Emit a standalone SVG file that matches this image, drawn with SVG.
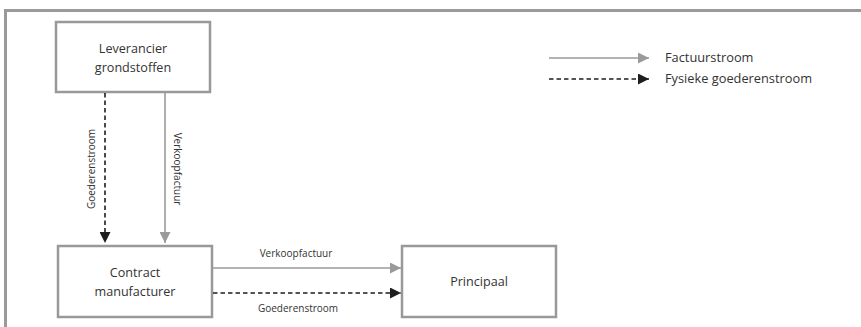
<svg xmlns="http://www.w3.org/2000/svg" width="861" height="327" viewBox="0 0 861 327">
  <defs>
    <marker id="headGray" viewBox="0 0 10 10" refX="10" refY="5" markerWidth="11" markerHeight="11" markerUnits="userSpaceOnUse" orient="auto">
      <path d="M0,0 L10,5 L0,10 Z" fill="#9a9a9a"/>
    </marker>
    <marker id="headDark" viewBox="0 0 10 10" refX="10" refY="5" markerWidth="11" markerHeight="11" markerUnits="userSpaceOnUse" orient="auto">
      <path d="M0,0 L10,5 L0,10 Z" fill="#1e1e1e"/>
    </marker>
  </defs>
  <style>
    .frame { fill: none; stroke: #9a9a9a; stroke-width: 3; }
    .box { fill: #ffffff; stroke: #999999; stroke-width: 2.5; }
    .label { font-family: "Open Sans", "Liberation Sans", sans-serif; font-size: 12.6px; fill: #333333; text-anchor: middle; }
    .small { font-family: "Open Sans", "Liberation Sans", sans-serif; font-size: 10px; fill: #333333; text-anchor: middle; }
    .legend { font-family: "Open Sans", "Liberation Sans", sans-serif; font-size: 12.8px; fill: #333333; }
    .invoice { fill: none; stroke: #9a9a9a; stroke-width: 1.6; marker-end: url(#headGray); }
    .goods { fill: none; stroke: #1e1e1e; stroke-width: 1.6; stroke-dasharray: 4.5 3; marker-end: url(#headDark); }
  </style>

  <rect width="861" height="327" fill="#ffffff"/>
  <!-- outer frame: top and left edges -->
  <path class="frame" d="M5.5,327 L5.5,10.5 L861,10.5"/>

  <g id="leverancier">
    <rect class="box" x="56" y="22" width="154" height="70"/>
    <text class="label" x="133" y="53">Leverancier</text>
    <text class="label" x="133" y="72">grondstoffen</text>
  </g>

  <g id="contract-manufacturer">
    <rect class="box" x="58" y="246" width="154" height="71"/>
    <text class="label" x="135" y="277">Contract</text>
    <text class="label" x="135" y="296">manufacturer</text>
  </g>

  <g id="principaal">
    <rect class="box" x="402" y="246" width="154" height="71"/>
    <text class="label" x="479" y="286">Principaal</text>
  </g>

  <g id="connectors">
    <line class="goods" x1="105" y1="93" x2="105" y2="243"/>
    <line class="invoice" x1="165" y1="93" x2="165" y2="243"/>
    <line class="invoice" x1="213" y1="268" x2="401" y2="268"/>
    <line class="goods" x1="213" y1="293" x2="401" y2="293"/>
    <text class="small" transform="translate(95,169) rotate(-90)">Goederenstroom</text>
    <text class="small" transform="translate(174,169) rotate(90)">Verkoopfactuur</text>
    <text class="small" x="296" y="257">Verkoopfactuur</text>
    <text class="small" x="298" y="312">Goederenstroom</text>
  </g>

  <g id="legend">
    <line class="invoice" x1="549" y1="58" x2="649" y2="58"/>
    <line class="goods" x1="549" y1="79" x2="649" y2="79"/>
    <text class="legend" x="665" y="62">Factuurstroom</text>
    <text class="legend" x="665" y="83">Fysieke goederenstroom</text>
  </g>
</svg>
